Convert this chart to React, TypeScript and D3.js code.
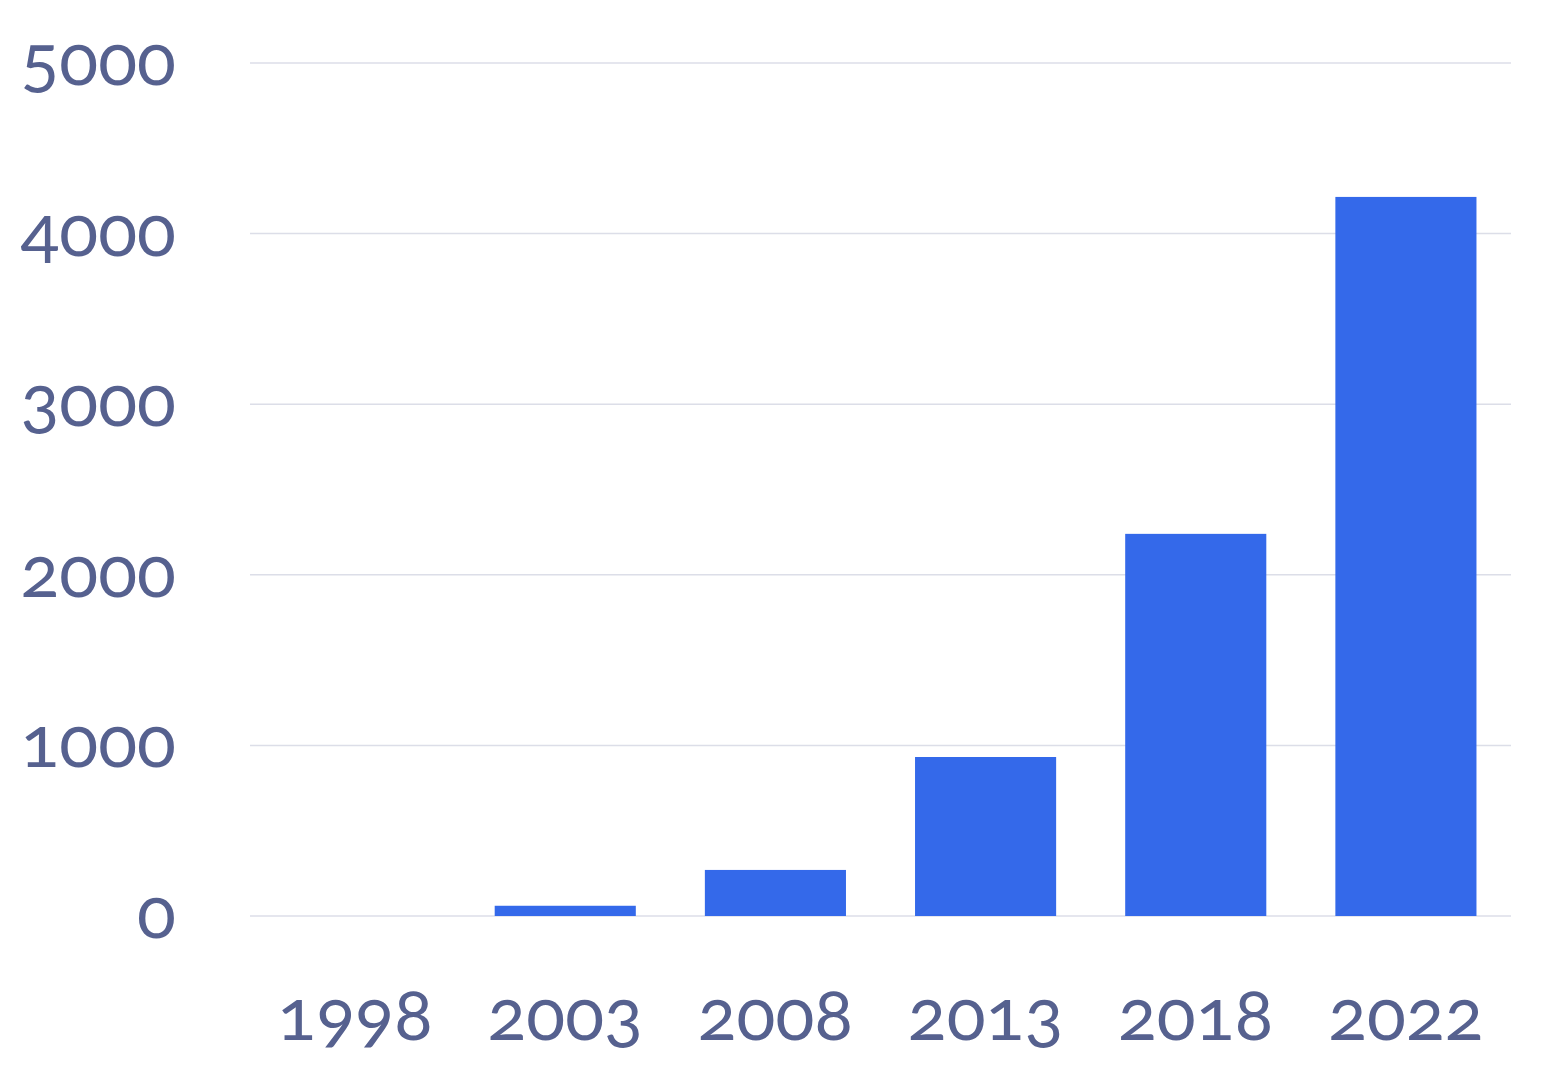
import React from "react";
import * as d3 from "d3";

const years = ["1998", "2003", "2008", "2013", "2018", "2022"];
const values = [0, 60, 270, 932, 2240, 4215];
const yTicks = [0, 1000, 2000, 3000, 4000, 5000];

const W = 1546;
const H = 1080;

export default function App() {
  const x = d3
    .scaleBand<string>()
    .domain(years)
    .range([250, 1511])
    .paddingInner(0.3286)
    .paddingOuter(0.1643);
  const y = d3.scaleLinear().domain([0, 5000]).range([916, 63]);
  const textColor = "#56618f";
  const font = "Lato, 'Open Sans', sans-serif";
  return (
    <svg
      width={W}
      height={H}
      style={{ position: "absolute", left: 0, top: 0, background: "#fff" }}
    >
      {yTicks.map((t) => (
        <g key={t}>
          <line x1={250} x2={1511} y1={y(t)} y2={y(t)} stroke="#dcdee8" strokeWidth={1.5} />
          <text
            x={176}
            y={y(t) + 22}
            textAnchor="end"
            fill={textColor}
            fontFamily={font}
            fontSize={72}
            style={{ fontVariantNumeric: "oldstyle-nums" }}
          >
            {t}
          </text>
        </g>
      ))}
      {years.map((yr, i) => (
        <rect
          key={yr}
          x={x(yr)}
          y={y(values[i])}
          width={x.bandwidth()}
          height={916 - y(values[i])}
          fill="#3469ea"
        />
      ))}
      {years.map((yr) => (
        <text
          key={yr}
          x={(x(yr) as number) + x.bandwidth() / 2}
          y={1040}
          textAnchor="middle"
          fill={textColor}
          fontFamily={font}
          fontSize={72}
          style={{ fontVariantNumeric: "oldstyle-nums" }}
        >
          {yr}
        </text>
      ))}
    </svg>
  );
}
